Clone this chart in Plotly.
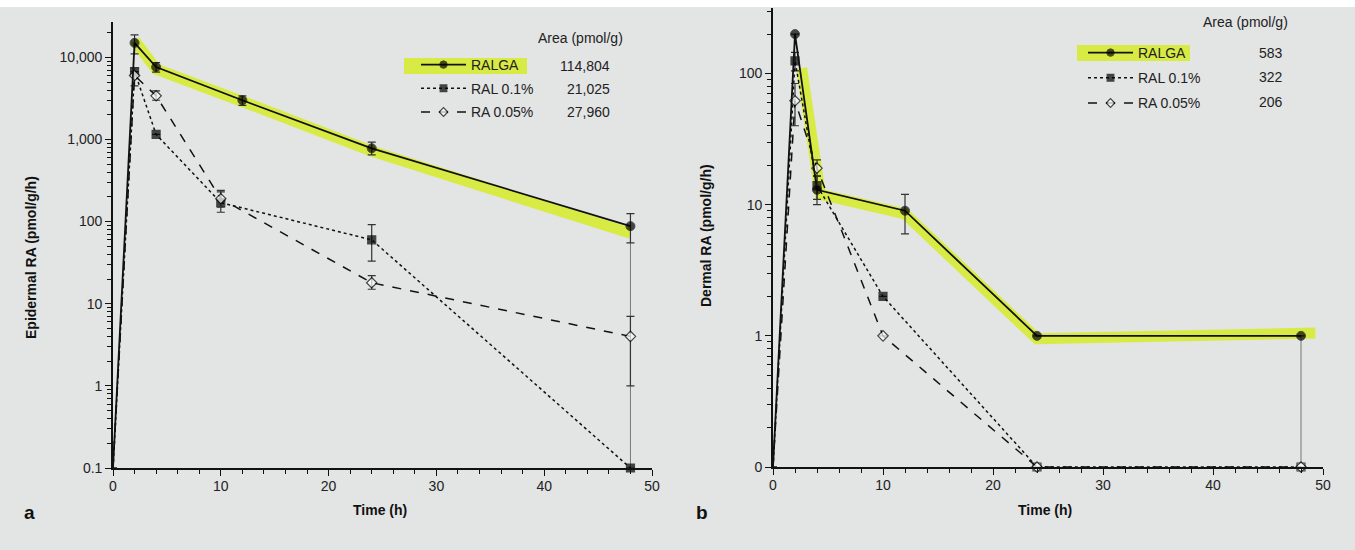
import plotly.graph_objects as go
from plotly.subplots import make_subplots

# ---- panel a: epidermal RA (pmol/g/h) ----
time_a = [0, 2, 4, 12, 24, 48]
ralga_a = [0.1, 15000, 7600, 3000, 780, 88]
ralga_a_hi = [0, 3800, 1000, 400, 150, 37]
ralga_a_lo = [0, 4000, 1000, 400, 130, 33]

time_a2 = [0, 2, 4, 10, 24, 48]
ral_a = [0.1, 6700, 1150, 170, 60, 0.1]
ral_a_hi = [0, 0, 0, 60, 32, 0]
ral_a_lo = [0, 0, 0, 40, 27, 0]
ra_a = [0.1, 6000, 3400, 190, 18, 4]
ra_a_hi = [0, 1500, 500, 50, 4, 3]
ra_a_lo = [0, 1500, 400, 40, 3, 3]

# thin grey drop line at 48 h
drop_a = dict(x=[48], y=[0.1], up=[55])

# highlighter stroke on panel a
hl_a_x = [2, 4, 12, 24, 48]
hl_a_y = [16000, 7200, 2900, 720, 72]

# ---- panel b: dermal RA (pmol/g/h), "0" plotted at 0.1 ----
time_b = [0, 2, 4, 12, 24, 48]
ralga_b = [0.1, 200, 13, 9, 1, 1]
ralga_b_hi = [0, 0, 3.5, 3, 0, 0]
ralga_b_lo = [0, 0, 3, 3, 0, 0]

time_b2 = [0, 2, 4, 10, 24, 48]
ral_b = [0.1, 125, 14, 2, 0.1, 0.1]
ral_b_hi = [0, 20, 2.5, 0, 0, 0]
ral_b_lo = [0, 20, 3, 0, 0, 0]
ra_b = [0.1, 62, 19, 1, 0.1, 0.1]
ra_b_hi = [0, 22, 3, 0, 0, 0]
ra_b_lo = [0, 22, 2.5, 0, 0, 0]

drop_b = dict(x=[48], y=[0.1], up=[0.9])

hl_b_x = [2.6, 4.3, 12, 24, 49.3]
hl_b_y = [110, 12, 8.5, 0.95, 1.05]

series_names = ['RALGA', 'RAL 0.1%', 'RA 0.05%']
area_a = ['114,804', '21,025', '27,960']
area_b = ['583', '322', '206']

yticks_a = [0.1, 1, 10, 100, 1000, 10000]
yticktext_a = ['0.1', '1', '10', '100', '1,000', '10,000']
yticks_b = [0.1, 1, 10, 100]
yticktext_b = ['0', '1', '10', '100']

W, H = 1355, 550
BG = '#e3e4e4'
HL = 'rgba(214,236,40,0.85)'
FONT = 'Liberation Sans, Arial, sans-serif'
INK = '#000000'

fig = make_subplots(rows=1, cols=2)


def marker_sizes(n, size):
    return [0] + [size] * (n - 1)


def add_panel(col, leg, t1, ralga, r_hi, r_lo, t2, ral, l_hi, l_lo, ra, a_hi, a_lo, hx, hy, drop, ral_colors):
    # yellow highlighter under RALGA
    fig.add_trace(go.Scatter(x=hx, y=hy, mode='lines', line=dict(color=HL, width=11),
                             showlegend=False, hoverinfo='skip'), row=1, col=col)
    fig.add_trace(go.Scatter(x=drop['x'], y=drop['y'], mode='markers', marker=dict(size=0, opacity=0),
                             error_y=dict(type='data', array=drop['up'], arrayminus=[0],
                                          color='#777', thickness=1, width=0),
                             showlegend=False, hoverinfo='skip'), row=1, col=col)
    fig.add_trace(go.Scatter(x=t2, y=ral, mode='lines+markers', name=series_names[1],
                             line=dict(color='#111', width=1.5, dash='dot'),
                             marker=dict(symbol='square', size=marker_sizes(len(t2), 8),
                                         color=ral_colors, line=dict(color=INK, width=1.2)),
                             error_y=dict(type='data', array=l_hi, arrayminus=l_lo,
                                          color='#333', thickness=1.2, width=4),
                             cliponaxis=False, legend=leg, legendgroup='b' + leg, legendrank=2),
                  row=1, col=col)
    fig.add_trace(go.Scatter(x=t2, y=ra, mode='lines+markers', name=series_names[2],
                             line=dict(color='#111', width=1.5, dash='dash'),
                             marker=dict(symbol='diamond', size=marker_sizes(len(t2), 8),
                                         color='white', line=dict(color=INK, width=1.2)),
                             error_y=dict(type='data', array=a_hi, arrayminus=a_lo,
                                          color='#333', thickness=1.2, width=4),
                             cliponaxis=False, legend=leg, legendgroup='c' + leg, legendrank=3),
                  row=1, col=col)
    fig.add_trace(go.Scatter(x=t1, y=ralga, mode='lines+markers', name=series_names[0],
                             line=dict(color='#111', width=1.8),
                             marker=dict(symbol='circle', size=marker_sizes(len(t1), 9), color=INK),
                             error_y=dict(type='data', array=r_hi, arrayminus=r_lo,
                                          color='#333', thickness=1.2, width=4),
                             cliponaxis=False, legend=leg, legendgroup='a' + leg, legendrank=1),
                  row=1, col=col)


add_panel(1, 'legend', time_a, ralga_a, ralga_a_hi, ralga_a_lo, time_a2, ral_a, ral_a_hi, ral_a_lo,
          ra_a, ra_a_hi, ra_a_lo, hl_a_x, hl_a_y, drop_a, INK)
add_panel(2, 'legend2', time_b, ralga_b, ralga_b_hi, ralga_b_lo, time_b2, ral_b, ral_b_hi, ral_b_lo,
          ra_b, ra_b_hi, ra_b_lo, hl_b_x, hl_b_y, drop_b,
          [INK, INK, INK, INK, 'white', 'white'])

axis_common = dict(showline=True, linecolor='#111', linewidth=1.6, showgrid=False, zeroline=False,
                   ticks='outside', tickcolor='#111', tickwidth=1.4, ticklen=6, automargin=False,
                   tickfont=dict(family=FONT, size=14, color='#222'))

minor_a = [m * 10 ** e for e in range(-1, 4) for m in range(2, 10)] + [20000]
minor_b = [m * 10 ** e for e in range(-1, 2) for m in range(2, 10)] + [200, 300]

fig.update_xaxes(range=[0, 50], dtick=10, ticklabelstandoff=-2,
                 minor=dict(dtick=2, ticks='outside', ticklen=4, tickcolor='#111', tickwidth=1.2),
                 **axis_common)
fig.update_xaxes(domain=[113 / W, 652 / W], row=1, col=1)
fig.update_xaxes(domain=[773 / W, 1323 / W], row=1, col=2)
fig.update_yaxes(type='log', **axis_common)
fig.update_yaxes(range=[-1, 4.43], tickmode='array', tickvals=yticks_a, ticktext=yticktext_a,
                 minor=dict(tickmode='array', tickvals=minor_a, ticks='outside', ticklen=4,
                            tickcolor='#111', tickwidth=1),
                 domain=[(H - 468) / H, (H - 22) / H], row=1, col=1)
fig.update_yaxes(range=[-1, 2.5], tickmode='array', tickvals=yticks_b, ticktext=yticktext_b,
                 minor=dict(tickmode='array', tickvals=minor_b, ticks='outside', ticklen=4,
                            tickcolor='#111', tickwidth=1),
                 domain=[(H - 467) / H, (H - 8) / H], row=1, col=2)

legend_style = dict(bgcolor='rgba(0,0,0,0)', font=dict(family=FONT, size=14, color='#222'),
                    xanchor='left', yanchor='top', traceorder='grouped', itemwidth=45)
fig.update_layout(
    width=W, height=H, paper_bgcolor=BG, plot_bgcolor=BG,
    margin=dict(l=0, r=0, t=0, b=0, autoexpand=False),
    legend=dict(x=416 / W, y=1 - 49 / H, tracegroupgap=2.5, **legend_style),
    legend2=dict(x=1083 / W, y=1 - 37 / H, tracegroupgap=4, **legend_style),
)

# white strip along the top edge of the scan
fig.add_shape(type='rect', xref='paper', yref='paper', x0=0, x1=1, y0=1 - 7 / H, y1=1,
              fillcolor='white', line=dict(width=0), layer='below')
# highlighter behind RALGA legend entries
fig.add_shape(type='rect', xref='paper', yref='paper', x0=404 / W, x1=527 / W,
              y0=1 - 74 / H, y1=1 - 58 / H, fillcolor=HL, line=dict(width=0), layer='below')
fig.add_shape(type='rect', xref='paper', yref='paper', x0=1077 / W, x1=1190 / W,
              y0=1 - 61 / H, y1=1 - 45 / H, fillcolor=HL, line=dict(width=0), layer='below')

ann = []
txt = dict(family=FONT, size=14, color='#222')
ann.append(dict(x=580 / W, y=1 - 38 / H, text='Area (pmol/g)', font=txt))
ann.append(dict(x=1245 / W, y=1 - 22 / H, text='Area (pmol/g)', font=txt))
for i, v in enumerate(area_a):
    ann.append(dict(x=612 / W, y=1 - (66 + 23 * i) / H, text=v, font=txt, xanchor='right'))
for i, v in enumerate(area_b):
    ann.append(dict(x=1271 / W, y=1 - (53 + 24.5 * i) / H, text=v, font=txt))

bold = dict(family=FONT, size=14, color='#111')
ann.append(dict(x=380 / W, y=1 - 510 / H, text='<b>Time (h)</b>', font=bold))
ann.append(dict(x=1045 / W, y=1 - 510 / H, text='<b>Time (h)</b>', font=bold))
ann.append(dict(x=31 / W, y=1 - 258 / H, text='<b>Epidermal RA (pmol/g/h)</b>', font=bold, textangle=-90))
ann.append(dict(x=706 / W, y=1 - 236 / H, text='<b>Dermal RA (pmol/g/h)</b>', font=bold, textangle=-90))
ann.append(dict(x=30 / W, y=1 - 512 / H, text='<b>a</b>', font=dict(family=FONT, size=19, color='#111')))
ann.append(dict(x=702 / W, y=1 - 512 / H, text='<b>b</b>', font=dict(family=FONT, size=19, color='#111')))
for a in ann:
    a.update(xref='paper', yref='paper', showarrow=False)
    a.setdefault('xanchor', 'center')
    a.setdefault('yanchor', 'middle')
fig.update_layout(annotations=ann)

# page margin off so the figure sits at the window corner
fig.write_html('out.html', config={'displayModeBar': False},
               post_script="document.body.style.margin='0px';")
